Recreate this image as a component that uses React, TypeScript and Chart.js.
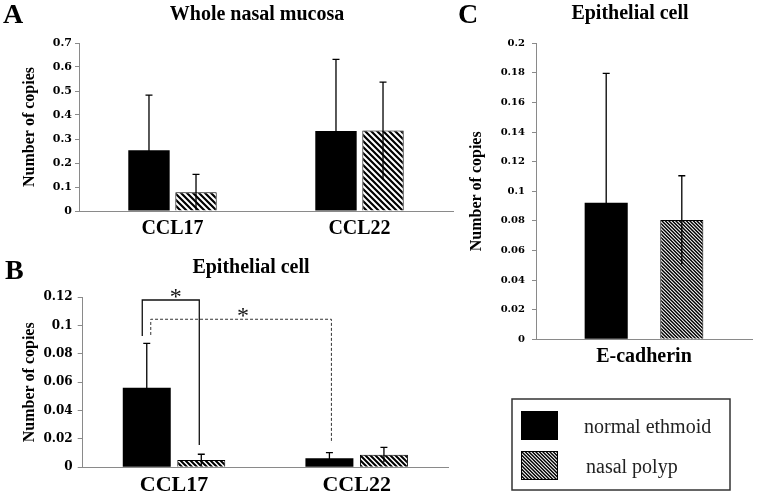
import React, { useEffect, useRef } from "react";
import { Chart, registerables } from "chart.js";

Chart.register(...registerables);

// ---------------- data ----------------
const seriesNames = ["normal ethmoid", "nasal polyp"];

const aTitle = "Whole nasal mucosa";
const aCategories = ["CCL17", "CCL22"];
const aNormal = [0.253, 0.333];
const aNormalSD = [0.23, 0.299];
const aPolyp = [0.078, 0.335];
const aPolypSD = [0.075, 0.202];
const aTicks = [0, 0.1, 0.2, 0.3, 0.4, 0.5, 0.6, 0.7];

const bTitle = "Epithelial cell";
const bCategories = ["CCL17", "CCL22"];
const bNormal = [0.0562, 0.0064];
const bNormalSD = [0.0313, 0.0039];
const bPolyp = [0.0052, 0.0088];
const bPolypSD = [0.004, 0.0053];
const bTicks = [0, 0.02, 0.04, 0.06, 0.08, 0.1, 0.12];
// significance brackets: category/series indices and y values
const bSignificance = [
  { fromCat: 0, fromSeries: 0, toCat: 0, toSeries: 1, yFrom: 0.0927, yTop: 0.1181, yTo: 0.0157, dashed: false, mark: "*" },
  { fromCat: 0, fromSeries: 0, toCat: 1, toSeries: 0, yFrom: 0.0934, yTop: 0.1045, yTo: 0.0172, dashed: true, mark: "*" },
];

const cTitle = "Epithelial cell";
const cCategories = ["E-cadherin"];
const cNormal = [0.0923];
const cNormalSD = [0.0874];
const cPolyp = [0.0806];
const cPolypSD = [0.0299];
const cTicks = [0, 0.02, 0.04, 0.06, 0.08, 0.1, 0.12, 0.14, 0.16, 0.18, 0.2];

const yAxisTitle = "Number of copies";

// ---------------- styles ----------------
const W = 760;
const H = 495;
const SERIF = "'Liberation Serif', 'Times New Roman', serif";
const TICKFONT = "'DejaVu Serif', serif";
const AXIS_GRAY = "#8a8a8a";
const bracketStyle = [
  { dx: [-4.5, -2], markDx: 5, markDy: 7 },
  { dx: [4, 2], markDx: 2, markDy: 7 },
];

function makeHatch(size: number, lines: number, lineWidth: number): CanvasPattern | string {
  const c = document.createElement("canvas");
  c.width = size;
  c.height = size;
  const g = c.getContext("2d");
  if (!g) return "#888";
  g.fillStyle = "#fff";
  g.fillRect(0, 0, size, size);
  g.strokeStyle = "#000";
  g.lineWidth = lineWidth;
  const period = size / lines;
  g.beginPath();
  for (let j = -lines - 1; j <= lines + 1; j++) {
    const o = j * period;
    g.moveTo(o - size, -size);
    g.lineTo(o + 2 * size, 2 * size);
  }
  g.stroke();
  const p = g.createPattern(c, "repeat");
  return p || "#888";
}

const errorBarsPlugin = {
  id: "errorBars",
  afterDatasetsDraw(chart: any, _args: any, opts: any) {
    const { ctx } = chart;
    const yScale = chart.scales.y;
    chart.data.datasets.forEach((ds: any, di: number) => {
      if (!ds.errors) return;
      const meta = chart.getDatasetMeta(di);
      meta.data.forEach((el: any, i: number) => {
        const v = ds.data[i];
        const e = ds.errors[i];
        const x = el.x;
        const yT = yScale.getPixelForValue(v + e);
        const yB = yScale.getPixelForValue(Math.max(0, v - e));
        ctx.save();
        ctx.strokeStyle = "#000";
        ctx.lineWidth = opts.lineWidth || 1.3;
        ctx.beginPath();
        ctx.moveTo(x, yB);
        ctx.lineTo(x, yT);
        const cap = opts.cap || 7;
        ctx.moveTo(x - cap / 2, yT);
        ctx.lineTo(x + cap / 2, yT);
        ctx.stroke();
        ctx.restore();
      });
    });
  },
};

const bracketsPlugin = {
  id: "brackets",
  afterDatasetsDraw(chart: any, _args: any, opts: any) {
    const items = opts.items;
    if (!items) return;
    const { ctx } = chart;
    const y = chart.scales.y;
    items.forEach((b: any, k: number) => {
      const st = bracketStyle[k];
      const x1 = chart.getDatasetMeta(b.fromSeries).data[b.fromCat].x + st.dx[0];
      const x2 = chart.getDatasetMeta(b.toSeries).data[b.toCat].x + st.dx[1];
      const yF = y.getPixelForValue(b.yFrom);
      const yTp = y.getPixelForValue(b.yTop);
      const yTo = y.getPixelForValue(b.yTo);
      ctx.save();
      ctx.strokeStyle = b.dashed ? "#333" : "#111";
      ctx.lineWidth = b.dashed ? 1 : 1.3;
      ctx.setLineDash(b.dashed ? [3, 2] : []);
      ctx.beginPath();
      ctx.moveTo(x1, yF);
      ctx.lineTo(x1, yTp);
      ctx.lineTo(x2, yTp);
      ctx.lineTo(x2, yTo);
      ctx.stroke();
      ctx.setLineDash([]);
      const fs = 24;
      ctx.font = `${fs}px ${SERIF}`;
      ctx.fillStyle = "#111";
      ctx.textAlign = "center";
      ctx.textBaseline = "alphabetic";
      const cx = (x1 + x2) / 2 + st.markDx;
      const cy = yTp - st.markDy;
      ctx.fillText(b.mark, cx, cy + 0.466 * fs);
      ctx.restore();
    });
  },
};

const panelLabelsPlugin = {
  id: "panelLabels",
  afterDraw(chart: any, _args: any, opts: any) {
    const { ctx } = chart;
    ctx.save();
    ctx.fillStyle = "#000";
    ctx.textBaseline = "alphabetic";
    if (opts.letter) {
      ctx.font = `bold 28px ${SERIF}`;
      ctx.textAlign = "left";
      ctx.fillText(opts.letter, opts.letterX, opts.letterY);
    }
    if (opts.title) {
      ctx.font = `bold 20px ${SERIF}`;
      ctx.textAlign = "center";
      ctx.fillText(opts.title, opts.titleX, opts.titleY);
    }
    ctx.restore();
  },
};

const boxLegendPlugin = {
  id: "boxLegend",
  afterDraw(chart: any, _args: any, opts: any) {
    if (!opts.show) return;
    const { ctx } = chart;
    ctx.save();
    ctx.strokeStyle = "#333";
    ctx.lineWidth = 1.5;
    ctx.strokeRect(opts.x, opts.y, opts.w, opts.h);
    chart.data.datasets.forEach((ds: any, i: number) => {
      const sy = opts.y + opts.swatchTop + i * opts.rowGap;
      ctx.fillStyle = ds.backgroundColor;
      ctx.fillRect(opts.x + opts.swatchLeft, sy, opts.swatchW, opts.swatchH);
      ctx.strokeStyle = "#000";
      ctx.lineWidth = 1;
      ctx.strokeRect(opts.x + opts.swatchLeft + 0.5, sy + 0.5, opts.swatchW - 1, opts.swatchH - 1);
      ctx.fillStyle = "#222";
      ctx.font = `20px ${SERIF}`;
      ctx.textAlign = "left";
      ctx.textBaseline = "alphabetic";
      ctx.fillText(ds.label, opts.x + opts.textLeft[i], opts.y + opts.textBase[i]);
    });
    ctx.restore();
  },
};

type PanelProps = {
  categories: string[];
  normal: number[];
  normalSD: number[];
  polyp: number[];
  polypSD: number[];
  ticks: number[];
  hatch: [number, number, number];
  categoryPercentage: number;
  barPercentage: number;
  yWidth: number;
  xHeight: number;
  padding: { top: number; right: number; bottom: number; left: number };
  tickFont: number;
  tickPadding: number;
  tickLength: number;
  labelFont: number;
  labelPadding: number;
  yTitlePad: number;
  labels: any;
  brackets?: any[];
  legend?: any;
};

function Panel(p: PanelProps) {
  const ref = useRef<HTMLCanvasElement | null>(null);
  useEffect(() => {
    if (!ref.current) return;
    const hatch = makeHatch(p.hatch[0], p.hatch[1], p.hatch[2]);
    const chart = new Chart(ref.current, {
      type: "bar",
      data: {
        labels: p.categories,
        datasets: [
          {
            label: seriesNames[0],
            data: p.normal,
            errors: p.normalSD,
            backgroundColor: "#000",
            borderColor: "#000",
            borderWidth: 0,
            categoryPercentage: p.categoryPercentage,
            barPercentage: p.barPercentage,
          } as any,
          {
            label: seriesNames[1],
            data: p.polyp,
            errors: p.polypSD,
            backgroundColor: hatch,
            borderColor: "#000",
            borderWidth: 1,
            categoryPercentage: p.categoryPercentage,
            barPercentage: p.barPercentage,
          } as any,
        ],
      },
      options: {
        responsive: false,
        animation: false,
        events: [],
        layout: { padding: p.padding },
        scales: {
          x: {
            grid: { display: false },
            border: { display: true, color: AXIS_GRAY, width: 1 },
            ticks: {
              color: "#000",
              padding: p.labelPadding,
              font: { family: SERIF, weight: "bold", size: p.labelFont },
              maxRotation: 0,
              autoSkip: false,
            },
            afterFit: (s: any) => {
              s.height = p.xHeight;
            },
          },
          y: {
            min: p.ticks[0],
            max: p.ticks[p.ticks.length - 1],
            afterBuildTicks: (s: any) => {
              s.ticks = p.ticks.map((value) => ({ value }));
            },
            ticks: {
              color: "#000",
              padding: p.tickPadding,
              font: { family: TICKFONT, weight: "bold", size: p.tickFont },
              callback: (v: any) => String(parseFloat(Number(v).toFixed(4))),
            },
            grid: {
              display: true,
              drawOnChartArea: false,
              drawTicks: true,
              tickLength: p.tickLength,
              color: AXIS_GRAY,
              lineWidth: 1,
            },
            border: { display: true, color: AXIS_GRAY, width: 1 },
            title: {
              display: true,
              text: yAxisTitle,
              color: "#000",
              font: { family: SERIF, weight: "bold", size: 16 },
              padding: { top: p.yTitlePad, bottom: 0 },
            },
            afterFit: (s: any) => {
              s.width = p.yWidth;
            },
          },
        },
        plugins: {
          legend: { display: false },
          tooltip: { enabled: false },
          title: { display: false },
          errorBars: { lineWidth: 1.3, cap: 7 },
          brackets: { items: p.brackets },
          panelLabels: p.labels,
          boxLegend: p.legend || { show: false },
        } as any,
      },
      plugins: [errorBarsPlugin, bracketsPlugin, panelLabelsPlugin, boxLegendPlugin],
    } as any);
    return () => chart.destroy();
  }, []);
  return (
    <canvas
      ref={ref}
      width={W}
      height={H}
      style={{ position: "absolute", left: 0, top: 0, width: W, height: H }}
    />
  );
}

export default function App() {
  return (
    <div
      style={{
        position: "absolute",
        left: 0,
        top: 0,
        width: W,
        height: H,
        background: "#fff",
        overflow: "hidden",
      }}
    >
      <Panel
        categories={aCategories}
        normal={aNormal}
        normalSD={aNormalSD}
        polyp={aPolyp}
        polypSD={aPolypSD}
        ticks={aTicks}
        hatch={[12, 2, 2.2]}
        categoryPercentage={0.503}
        barPercentage={0.88}
        yWidth={79}
        xHeight={29}
        padding={{ top: 43, right: W - 453, bottom: H - 211 - 29, left: 0 }}
        tickFont={11}
        tickPadding={3}
        tickLength={4}
        labelFont={20}
        labelPadding={-2}
        yTitlePad={20.4}
        labels={{ letter: "A", letterX: 3, letterY: 23, title: aTitle, titleX: 257, titleY: 20 }}
      />
      <Panel
        categories={bCategories}
        normal={bNormal}
        normalSD={bNormalSD}
        polyp={bPolyp}
        polypSD={bPolypSD}
        ticks={bTicks}
        hatch={[10, 2, 2]}
        categoryPercentage={0.597}
        barPercentage={0.88}
        yWidth={82.7}
        xHeight={27.7}
        padding={{ top: 297.3, right: W - 448, bottom: 0, left: 0 }}
        tickFont={12}
        tickPadding={5}
        tickLength={5}
        labelFont={22}
        labelPadding={-3}
        yTitlePad={20.4}
        labels={{ letter: "B", letterX: 5, letterY: 279, title: bTitle, titleX: 251, titleY: 273.3 }}
        brackets={bSignificance}
      />
      <Panel
        categories={cCategories}
        normal={cNormal}
        normalSD={cNormalSD}
        polyp={cPolyp}
        polypSD={cPolypSD}
        ticks={cTicks}
        hatch={[7, 2, 1.5]}
        categoryPercentage={0.7}
        barPercentage={0.57}
        yWidth={116}
        xHeight={30}
        padding={{ top: 43.3, right: 8, bottom: 125.7, left: 420 }}
        tickFont={10}
        tickPadding={7}
        tickLength={4}
        labelFont={20}
        labelPadding={-2}
        yTitlePad={46.9}
        labels={{ letter: "C", letterX: 458, letterY: 23, title: cTitle, titleX: 630, titleY: 19.3 }}
        legend={{
          show: true,
          x: 512,
          y: 399,
          w: 218,
          h: 91,
          swatchLeft: 9,
          swatchTop: 12,
          swatchW: 37,
          swatchH: 29,
          rowGap: 40,
          textLeft: [72, 74],
          textBase: [34, 74],
        }}
      />
    </div>
  );
}
